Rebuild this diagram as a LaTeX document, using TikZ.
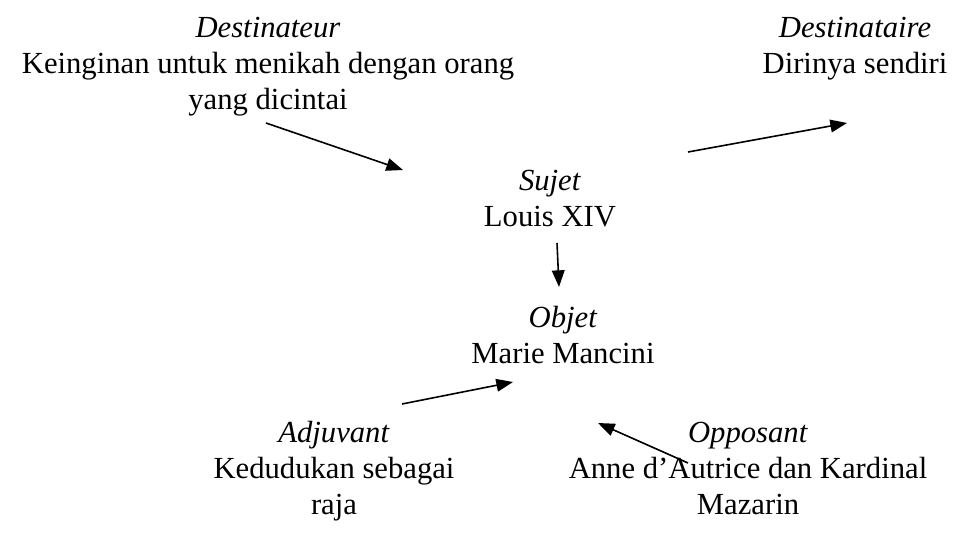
\documentclass[tikz,border=0pt]{standalone}
\usepackage{fontspec}
\setmainfont{Liberation Serif}
\usetikzlibrary{arrows.meta}
\tikzset{
  actant/.style={align=center, anchor=north, inner sep=0pt,
    font=\fontsize{23}{27}\selectfont},
  conn/.style={line width=1.2pt, -{Triangle[length=12.5pt, width=9.5pt]}}
}
\newcommand{\firstline}{\rule{0pt}{0.75em}}
\begin{document}
\begin{tikzpicture}[x=0.75pt, y=-0.75pt]
\useasboundingbox (0,0) rectangle (955,532);
\node[actant] (dest) at (268,14) {\firstline\textit{Destinateur}\\Keinginan untuk menikah dengan orang\\yang dicintai};
\node[actant] (desti) at (855,14) {\firstline\textit{Destinataire}\\Dirinya sendiri};
\node[actant] (sujet) at (550,167) {\firstline\textit{Sujet}\\Louis XIV};
\node[actant] (objet) at (563,304) {\firstline\textit{Objet}\\Marie Mancini};
\node[actant] (adj) at (334,419) {\firstline\textit{Adjuvant}\\Kedudukan sebagai\\raja};
\node[actant] (opp) at (748,419) {\firstline\textit{Opposant}\\Anne d’Autrice dan Kardinal\\Mazarin};
\coordinate (a1s) at (266,123); \coordinate (a1e) at (403,170);
\coordinate (a2s) at (688,152); \coordinate (a2e) at (847,123);
\coordinate (a3s) at (557,243); \coordinate (a3e) at (559,287);
\coordinate (a4s) at (402,404); \coordinate (a4e) at (513,382);
\coordinate (a5s) at (688,463); \coordinate (a5e) at (598,423);
\draw[conn] (a1s) -- (a1e);
\draw[conn] (a2s) -- (a2e);
\draw[conn] (a3s) -- (a3e);
\draw[conn] (a4s) -- (a4e);
\draw[conn] (a5s) -- (a5e);
\end{tikzpicture}
\end{document}
